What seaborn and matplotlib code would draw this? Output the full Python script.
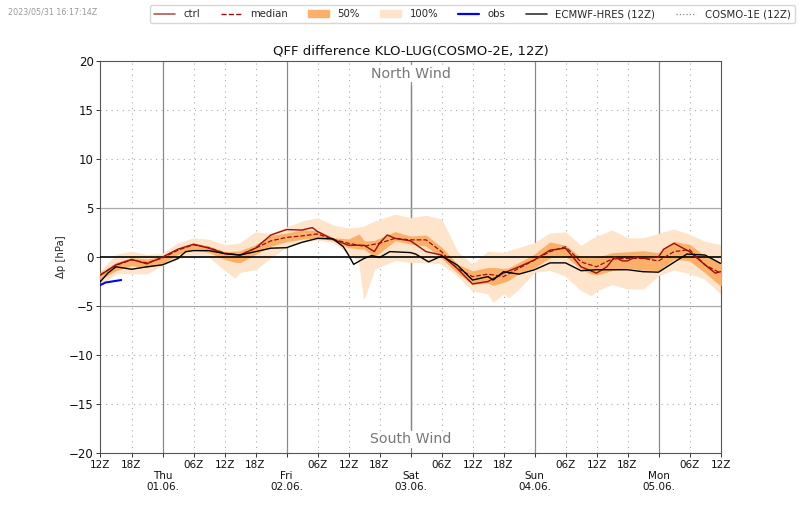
import seaborn as sns
import pandas as pd
import matplotlib.pyplot as plt
from matplotlib.lines import Line2D
from matplotlib.patches import Patch

# lead time in hours since 31.05. 12Z
hours = list(range(0, 121, 3))
median = [-1.8, -0.85, -0.3, -0.6, -0.1, 0.7, 1.25, 0.95, 0.4, 0.2, 0.9,
          1.65, 2.0, 2.15, 2.35, 1.8, 1.4, 1.1, 1.4, 1.9, 1.75,
          1.75, 0.55, -1.15, -2.0, -1.75, -2.0, -1.15, -0.3, 0.55, 1.05,
          -0.5, -1.0, -0.2, -0.15, -0.15, -0.4, 0.55, 0.75, -0.8, -1.65]

ctrl_hours = [0, 3, 6, 9, 12, 15, 18, 21, 24, 27, 30, 33, 36, 39, 41, 42, 45, 48, 51, 53, 54, 55.5, 57, 60,
              63, 66, 69, 72, 75, 78, 81, 84, 87, 90, 93, 96, 98, 99.5, 101, 102, 103.5, 105, 108, 109, 111, 114, 117, 119, 120]
ctrl = [-1.85, -0.8, -0.25, -0.7, 0.0, 0.8, 1.3, 0.9, 0.35, 0.2, 0.9, 2.25, 2.8, 2.75, 3.0, 2.6, 1.8, 1.2, 1.2, 0.55, 1.4, 2.25, 1.9, 1.65,
        0.55, 0.2, -1.15, -2.75, -2.5, -1.65, -1.0, -0.3, 0.7, 0.9, -1.0, -1.65, -1.0, 0.0, -0.4, -0.4, 0.0, -0.15, 0.0, 0.8, 1.4, 0.55, -0.8, -1.65, -1.5]

band_hours = [0, 3, 6, 9, 12, 15, 18, 21, 24, 26, 27, 30,
              33, 36, 39, 42, 45, 48, 50, 51, 53, 57, 60,
              63, 66, 69, 72, 75, 76, 78, 79, 81, 84, 87, 90,
              93, 95, 96, 99, 102, 105, 108, 111, 114, 117, 120]
p100_hi = [-1.5, 0.2, 0.55, 0.2, 0.35, 1.4, 1.9, 1.75, 1.2, 1.3, 1.4, 2.5,
           2.35, 3.0, 3.6, 3.95, 3.2, 2.9, 3.0, 3.1, 3.6, 4.3, 3.95,
           4.2, 3.8, 0.55, -0.8, 0.55, 0.5, 0.4, 0.6, 0.9, 1.4, 2.4, 2.5,
           1.1, 1.8, 2.05, 2.7, 1.9, 1.9, 2.35, 2.8, 2.25, 1.55, 1.2]
p100_lo = [-2.85, -1.65, -1.65, -1.65, -0.8, -0.15, 0.2, 0.05, -1.3, -2.1, -1.5, -1.25,
           0.0, 1.05, 1.55, 1.8, 1.55, 0.35, -0.3, -4.2, -1.2, -0.3, -0.5,
           -0.5, -0.65, -1.85, -3.4, -3.7, -4.55, -3.7, -4.1, -3.2, -1.5, -1.3, -1.9,
           -3.35, -3.9, -3.4, -2.75, -3.2, -3.2, -1.85, -1.25, -1.65, -2.2, -3.7]
p50_hi = [-1.65, -0.65, -0.15, -0.3, 0.0, 0.8, 1.35, 1.05, 0.45, 0.5, 0.55, 1.15,
          2.15, 2.35, 2.7, 2.6, 1.9, 1.75, 2.25, 1.55, 1.6, 2.5, 2.05,
          2.15, 0.9, -0.8, -1.5, -1.15, -1.15, -1.25, -1.2, -0.65, 0.2, 1.45, 1.1,
          -0.15, -0.15, -0.15, 0.35, 0.45, 0.55, 0.35, 1.5, 1.2, 0.0, -0.65]
p50_lo = [-2.2, -1.3, -0.8, -1.0, -0.6, 0.35, 0.8, 0.55, -0.15, -0.45, -0.5, 0.35,
          1.2, 1.65, 1.9, 2.05, 1.75, 1.05, 0.9, 0.9, 0.1, 1.75, 1.4,
          1.2, 0.0, -1.5, -2.7, -2.6, -2.8, -2.5, -2.3, -1.55, -1.0, 0.0, 0.2,
          -1.15, -1.65, -1.75, -1.3, -1.05, -1.25, -1.3, -0.15, -0.3, -1.5, -2.85]

hres_hours = [0, 1.4, 3, 6, 9, 12, 15, 16.5, 18, 21, 24, 27, 30, 33, 36, 39, 42, 45, 47, 48, 49, 51, 52.5, 54, 56, 60,
              61, 63.5, 66, 69, 72, 75, 76, 78, 81, 84, 87, 90, 93, 96, 99, 102, 105, 108, 113.5, 117, 120]
hres = [-2.5, -1.65, -1.0, -1.25, -1.0, -0.8, -0.15, 0.55, 0.65, 0.65, 0.35, 0.2, 0.55, 0.9, 0.95, 1.5, 1.9, 1.85, 1.05, 0.2, -0.75, -0.15, 0.15, -0.05, 0.55, 0.45,
        0.3, -0.5, 0.1, -0.8, -2.35, -2.0, -2.35, -1.5, -1.75, -1.3, -0.6, -0.6, -1.4, -1.3, -1.3, -1.3, -1.5, -1.55, 0.3, 0.2, -0.65]

obs_hours = [0, 1, 4]
obs = [-2.85, -2.6, -2.35]

major_ticks = [12, 36, 60, 84, 108]
day_names = ["Thu", "Fri", "Sat", "Sun", "Mon"]
day_dates = ["01.06.", "02.06.", "03.06.", "04.06.", "05.06."]
minor_hours = ["12Z", "18Z", "", "06Z"]

sns.set_theme(style="white")
plt.rcParams["font.family"] = ["DejaVu Sans"]

fig = plt.figure(figsize=(8, 5.09), dpi=100)
ax = fig.add_axes([100.5 / 800, 1 - 453 / 509, 620 / 800, 392 / 509])

c_100 = "#fde4ca"
c_50 = "#fbb069"
c_red = "#980f0f"

ax.fill_between(band_hours, p100_lo, p100_hi, color=c_100, lw=0.8, zorder=2)
ax.fill_between(band_hours, p50_lo, p50_hi, color=c_50, lw=1.2, zorder=3)

frame = pd.DataFrame({"hour": hours, "median": median})
sns.lineplot(data=frame, x="hour", y="median", color=c_red, lw=0.9, ls="--", ax=ax, zorder=5)
sns.lineplot(x=ctrl_hours, y=ctrl, color=c_red, lw=1.0, ax=ax, zorder=5)
sns.lineplot(x=hres_hours, y=hres, color="black", lw=1.0, ax=ax, zorder=6)
sns.lineplot(x=obs_hours, y=obs, color="blue", lw=1.5, ax=ax, zorder=6)

ax.axhline(0, color="black", lw=1.2, zorder=4)
ax.axvline(60, ymin=0.06, ymax=0.94, color="#666666", lw=0.9, zorder=1)

ax.set_xlim(0, 120)
ax.set_ylim(-20, 20)
ax.set_xlabel("")
ax.set_ylabel("Δp [hPa]", fontsize=7.3, labelpad=2)
ax.set_title("QFF difference KLO-LUG(COSMO-2E, 12Z)", fontsize=9.5, pad=5, color="#111111")

xticks = list(range(0, 121, 6))
xlabels = []
for h in xticks:
    if h in major_ticks:
        i = major_ticks.index(h)
        xlabels.append("\n" + day_names[i] + "\n" + day_dates[i])
    else:
        xlabels.append(minor_hours[(h % 24) // 6])
ax.set_xticks(xticks)
ax.set_xticklabels(xlabels, fontsize=7.5, linespacing=1.15)
ax.set_yticks(range(-20, 21, 5))
ax.tick_params(axis="both", length=3, width=0.7, color="#333333", labelcolor="#111111", pad=2, bottom=True, left=True)
ax.tick_params(axis="y", labelsize=8.5)

for h in xticks:
    if h in major_ticks:
        ax.axvline(h, color="#8a8a8a", lw=0.9, zorder=1)
    elif 0 < h < 120:
        ax.axvline(h, color="#aaaaaa", lw=0.8, ls=(0, (1, 4)), zorder=1)
for v in [-15, -10, 10, 15]:
    ax.axhline(v, color="#aaaaaa", lw=0.8, ls=(0, (1, 4)), zorder=1)
for v in [-5, 5]:
    ax.axhline(v, color="#aaaaaa", lw=0.9, zorder=1)
for s in ax.spines.values():
    s.set_color("#555555")
    s.set_linewidth(0.8)

ax.text(60, 18.7, "North Wind", ha="center", va="center", fontsize=10.2, color="#777777",
        bbox=dict(fc="white", ec="none", pad=1), zorder=7)
ax.text(60, -18.6, "South Wind", ha="center", va="center", fontsize=10.2, color="#777777",
        bbox=dict(fc="white", ec="none", pad=1), zorder=7)

fig.text(8 / 800, 1 - 12 / 509, "2023/05/31 16:17:14Z", fontsize=5.8, color="#999999", va="center")

handles = [
    Line2D([], [], color=c_red, lw=1.2, alpha=0.7),
    Line2D([], [], color=c_red, lw=1.0, ls="--"),
    Patch(color=c_50),
    Patch(color=c_100),
    Line2D([], [], color="blue", lw=1.6),
    Line2D([], [], color="black", lw=1.2, alpha=0.8),
    Line2D([], [], color="#888888", lw=0.9, ls=":"),
]
names = ["ctrl", "median", "50%", "100%", "obs", "ECMWF-HRES (12Z)", "COSMO-1E (12Z)"]
fig.legend(handles, names, ncol=7, fontsize=7.3, loc="upper right", bbox_to_anchor=(795 / 800, 1 - 5 / 509),
           frameon=True, edgecolor="#cccccc", borderpad=0.4, columnspacing=2.0, handlelength=2.05, handletextpad=0.85,
           borderaxespad=0)

fig.savefig("out.png", dpi=100)
